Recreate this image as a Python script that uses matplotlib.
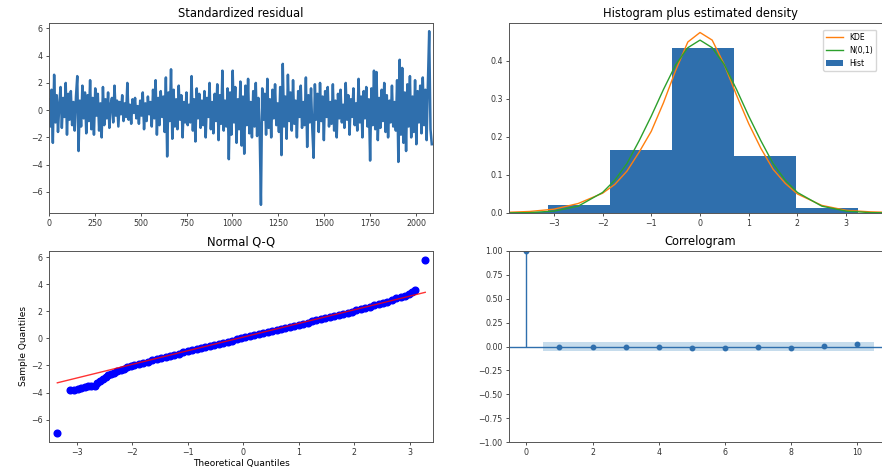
import numpy as np
import matplotlib
matplotlib.use('Agg')
from matplotlib import pyplot as plt

# standardized residuals, read every 7th observation off the picture
resid = [0.8, -1.2, 1.5, -2.4, 2.6, -0.9, 1.1, -1.6, 0.4, 1.7,
         -1.3, 0.9, -0.5, 2.0, -1.8, 1.2, -0.7, 1.4, -1.1, 0.6,
         -1.5, 1.0, 2.5, -3.0, 0.7, -1.2, 1.8, -0.6, 1.3, -1.7,
         1.1, -0.8, 2.2, -1.4, 0.9, -1.8, 1.6, -0.4, 1.2, -1.5,
         0.5, -2.0, 1.7, -1.1, 0.8, -0.6, 1.3, -1.3, 0.4, 0.9,
         -0.9, 1.8, -0.4, 0.7, -1.2, 0.6, -0.3, 1.1, -0.8, 0.5,
         -0.5, 2.0, -0.7, 0.4, -1.0, 0.8, -0.2, 0.9, -0.6, 0.3,
         -1.0, 0.7, -0.4, 1.3, -1.4, 0.5, -0.8, 1.0, -0.3, 0.6,
         -1.2, 1.5, -0.6, 2.2, -1.8, 0.9, -1.1, 1.4, -0.5, 1.0,
         -1.6, 2.4, -3.4, 1.3, -0.8, 3.0, -2.1, 1.5, -1.2, 0.8,
         -1.4, 1.8, -0.7, 1.1, -2.0, 0.6, -0.9, 1.3, -1.1, 0.4,
         -0.9, 2.5, -1.5, 0.8, -2.3, 1.6, -0.6, 1.2, -1.3, 0.7,
         -1.1, 1.4, -2.0, 0.9, -0.5, 2.0, -1.4, 0.6, -1.7, 1.2,
         -0.8, 1.9, -2.2, 1.1, -1.0, 2.9, -1.5, 0.7, -1.2, 1.6,
         -3.6, 1.3, -1.8, 2.9, -0.9, 1.7, -2.4, 0.8, -1.4, 2.1,
         -2.6, 1.0, -3.2, 1.8, -1.1, 2.3, -1.7, 0.6, -2.0, 1.4,
         -1.2, 2.0, -1.9, 0.9, -1.5, -6.95, 1.6, -0.7, 1.2, -1.8,
         2.3, -1.3, 0.8, -2.0, 1.5, -0.6, 1.9, -1.1, 0.5, -1.6,
         1.7, -3.3, 3.4, -1.2, 1.0, -2.1, 2.6, -0.8, 1.3, -1.5,
         2.2, -1.0, 0.7, -2.0, 1.4, -0.5, 1.8, -1.3, 0.6, -1.1,
         2.4, -2.7, 1.1, -0.9, 1.6, -1.4, -3.5, 1.9, -0.7, 1.2,
         -1.6, 2.0, -0.8, 1.0, -2.2, 1.4, -0.5, 1.7, -1.2, 0.6,
         -1.0, 1.9, -1.5, 0.7, -2.0, 1.2, -0.6, 1.5, -0.9, 0.4,
         -1.3, 2.0, -0.7, 1.1, -1.8, 0.8, -0.5, 1.6, -1.1, 0.5,
         -1.5, 2.3, -0.9, 1.0, -2.0, 1.4, -0.6, 1.7, -1.2, 0.8,
         -3.7, 1.6, -1.1, 2.9, -1.4, 2.8, -2.2, 0.9, -1.3, 1.5,
         -0.8, 2.0, -1.6, 1.1, -2.0, 0.7, -0.9, 1.8, -1.2, 0.6,
         -1.5, 2.2, -3.8, 3.7, -1.8, 3.1, -2.4, 1.3, -3.0, 1.9,
         -1.2, 2.5, -2.0, 1.0, -1.6, 2.2, -2.5, 1.4, -0.9, 1.8,
         -1.7, 2.4, -1.1, 1.5, -2.2, 2.0, 5.8, -1.4, -2.5]
step = 7

# histogram (density) bins
hist_edges = [-6.95, -5.675, -4.4, -3.125, -1.85, -0.575, 0.70, 1.975, 3.25, 4.525, 5.8]
hist_heights = [0.0004, 0.0, 0.0026, 0.022, 0.167, 0.435, 0.150, 0.013, 0.0008, 0.0004]

# density curves
dens_x = [-3.92, -3.5, -3.0, -2.5, -2.0, -1.75, -1.5, -1.25, -1.0, -0.75, -0.5, -0.25,
          0.0, 0.25, 0.5, 0.75, 1.0, 1.25, 1.5, 1.75, 2.0, 2.5, 3.0, 3.5, 3.92]
kde_y = [0.002, 0.004, 0.010, 0.025, 0.052, 0.075, 0.11, 0.16, 0.215, 0.29, 0.375, 0.45,
         0.475, 0.455, 0.39, 0.31, 0.235, 0.17, 0.115, 0.078, 0.05, 0.02, 0.007, 0.003, 0.0015]
norm_y = [0.0003, 0.001, 0.005, 0.018, 0.054, 0.086, 0.13, 0.19, 0.255, 0.325, 0.39, 0.435,
          0.455, 0.435, 0.39, 0.325, 0.255, 0.19, 0.13, 0.086, 0.054, 0.018, 0.005, 0.001, 0.0003]

# normal Q-Q
qq_theo = [-3.35, -3.12, -3.05, -2.98, -2.92, -2.86, -2.80, -2.74, -2.68, -2.63, -2.58,
           -2.53, -2.48, -2.43, -2.38, -2.33, -2.27, -2.21, -2.15, -2.09, -2.03, -1.96,
           -1.88, -1.80, -1.72, -1.64, -1.56, -1.48, -1.40, -1.32, -1.24, -1.16, -1.08,
           -1.00, -0.92, -0.84, -0.76, -0.68, -0.60, -0.52, -0.44, -0.36, -0.28, -0.20,
           -0.12, -0.04, 0.04, 0.12, 0.20, 0.28, 0.36, 0.44, 0.52, 0.60, 0.68, 0.76,
           0.84, 0.92, 1.00, 1.08, 1.16, 1.24, 1.32, 1.40, 1.48, 1.56, 1.64, 1.72,
           1.80, 1.88, 1.96, 2.04, 2.12, 2.20, 2.28, 2.36, 2.44, 2.52, 2.60, 2.68,
           2.76, 2.84, 2.92, 2.98, 3.04, 3.10, 3.28]
qq_sample = [-6.95, -3.80, -3.78, -3.72, -3.68, -3.62, -3.55, -3.52, -3.48, -3.30, -3.12,
             -2.98, -2.82, -2.72, -2.62, -2.52, -2.42, -2.33, -2.23, -2.14, -2.05, -1.97,
             -1.89, -1.80, -1.71, -1.62, -1.53, -1.45, -1.37, -1.29, -1.21, -1.12, -1.04,
             -0.96, -0.88, -0.80, -0.72, -0.64, -0.56, -0.48, -0.40, -0.32, -0.24, -0.16,
             -0.08, 0.00, 0.07, 0.15, 0.23, 0.30, 0.38, 0.46, 0.53, 0.61, 0.69, 0.77,
             0.85, 0.93, 1.01, 1.09, 1.17, 1.25, 1.33, 1.41, 1.49, 1.58, 1.66, 1.74,
             1.82, 1.90, 1.98, 2.06, 2.15, 2.24, 2.34, 2.44, 2.53, 2.62, 2.72, 2.83,
             2.95, 3.05, 3.15, 3.28, 3.40, 3.55, 5.80]
qq_line_x = [-3.35, 3.28]
qq_line_y = [-3.28, 3.40]

# correlogram
lags = [0, 1, 2, 3, 4, 5, 6, 7, 8, 9, 10]
acf = [1.0, -0.003, -0.004, -0.01, -0.01, -0.02, -0.02, -0.01, -0.02, 0.005, 0.025]
conf = 0.043

title_fs = 8.3
tick_fs = 5.7
label_fs = 6.5

fig = plt.figure(figsize=(8.82, 4.75), dpi=100)
W, H = 882.0, 475.0


def add_ax(l, t, r, b):
    return fig.add_axes([l / W, 1 - b / H, (r - l) / W, (b - t) / H])


ax1 = add_ax(49, 23, 432.5, 213)
ax2 = add_ax(509, 23, 891, 213)
ax3 = add_ax(49, 251, 433, 442)
ax4 = add_ax(509, 251, 891, 442)

# standardized residual
x = np.arange(len(resid)) * step
ax1.plot(x, resid, color='#2f6fad', lw=1.8)
ax1.set_xlim(0, 2090)
ax1.set_ylim(-7.55, 6.4)
ax1.set_xticks(range(0, 2001, 250))
ax1.set_yticks([-6, -4, -2, 0, 2, 4, 6])
ax1.set_title('Standardized residual', fontsize=title_fs, pad=4)

# histogram plus density
ax2.hist(hist_edges[:-1], bins=hist_edges, weights=hist_heights, color='#2f6fad', label='Hist')
ax2.plot(dens_x, kde_y, color='#ff7f0e', lw=1.0, label='KDE')
ax2.plot(dens_x, norm_y, color='#2ca02c', lw=1.0, label='N(0,1)')
ax2.set_xlim(-3.92, 3.92)
ax2.set_ylim(0, 0.5)
ax2.set_yticks([0.0, 0.1, 0.2, 0.3, 0.4])
ax2.set_xticks([-3, -2, -1, 0, 1, 2, 3])
ax2.set_title('Histogram plus estimated density', fontsize=title_fs, pad=4)
h, l = ax2.get_legend_handles_labels()
ax2.legend([h[1], h[2], h[0]], [l[1], l[2], l[0]], loc='upper right', fontsize=5.5,
           handlelength=2.2, framealpha=0.8,
           bbox_to_anchor=(880 / W, 1 - 26 / H), bbox_transform=fig.transFigure)

# normal Q-Q
ax3.plot(qq_theo, qq_sample, 'o', color='b', ms=4.8)
ax3.plot(qq_line_x, qq_line_y, color='r', lw=1.0, alpha=0.8)
ax3.set_xlim(-3.5, 3.42)
ax3.set_ylim(-7.65, 6.45)
ax3.set_xticks([-3, -2, -1, 0, 1, 2, 3])
ax3.set_yticks([-6, -4, -2, 0, 2, 4, 6])
ax3.set_title('Normal Q-Q', fontsize=title_fs, pad=4)
ax3.set_xlabel('Theoretical Quantiles', fontsize=label_fs, labelpad=1)
ax3.set_ylabel('Sample Quantiles', fontsize=label_fs, labelpad=2)

# correlogram
ax4.vlines(lags, 0, acf, color='#2f6fad', lw=1.0)
ax4.axhline(0, color='#2f6fad', lw=1.0)
ax4.plot(lags, acf, 'o', color='#2f6fad', ms=3.2)
band_x = [0.5] + lags[2:-1] + [10.5]
ax4.fill_between(band_x, [-conf] * len(band_x), [conf] * len(band_x), color='#1f77b4', alpha=0.25, lw=0)
ax4.set_xlim(-0.525, 11.025)
ax4.set_ylim(-1, 1)
ax4.set_yticks([-1.0, -0.75, -0.5, -0.25, 0.0, 0.25, 0.5, 0.75, 1.0])
ax4.set_xticks([0, 2, 4, 6, 8, 10])
ax4.set_title('Correlogram', fontsize=title_fs, pad=4)

for ax in (ax1, ax2, ax3, ax4):
    ax.tick_params(labelsize=tick_fs, length=2.5, width=0.6, pad=2, colors='#333333')
    for s in ax.spines.values():
        s.set_linewidth(0.7)
        s.set_color('#555555')

fig.savefig('out.png', dpi=100)
